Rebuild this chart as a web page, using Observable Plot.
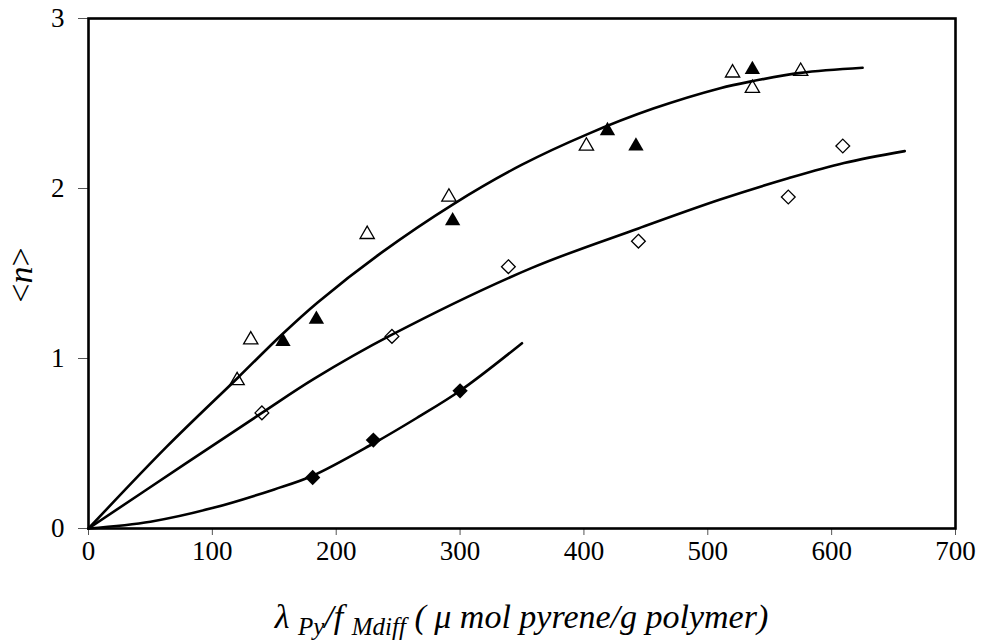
<!DOCTYPE html>
<html><head><meta charset="utf-8">
<script src="https://cdn.jsdelivr.net/npm/d3@7"></script>
<script src="https://cdn.jsdelivr.net/npm/@observablehq/plot@0.6"></script>
<style>body{margin:0;background:#fff} svg{display:block} svg text{font-family:"Times New Roman", "Liberation Serif", Times, "DejaVu Serif", serif !important;}</style>
</head><body><div id="chart"></div>
<script>
// axis ticks
const xTicks = [0, 100, 200, 300, 400, 500, 600, 700];
const yTicks = [0, 1, 2, 3];

// open triangles
const openTriX = [120, 131, 225, 291, 402, 520, 536, 575];
const openTriY = [0.87, 1.11, 1.73, 1.95, 2.25, 2.68, 2.59, 2.69];
// filled triangles
const fillTriX = [157, 184, 294, 419, 442, 536];
const fillTriY = [1.10, 1.23, 1.81, 2.34, 2.25, 2.70];
// open diamonds
const openDiaX = [140, 245, 339, 444, 565, 609];
const openDiaY = [0.68, 1.13, 1.54, 1.69, 1.95, 2.25];
// filled diamonds
const fillDiaX = [181, 230, 300];
const fillDiaY = [0.30, 0.52, 0.81];

// fitted curves
const upperCurveX = [0, 63, 121, 156, 185, 236, 295, 350, 403, 456, 510, 535, 575, 625];
const upperCurveY = [0, 0.48, 0.89, 1.14, 1.33, 1.62, 1.91, 2.14, 2.32, 2.47, 2.59, 2.63, 2.68, 2.71];
const middleCurveX = [0, 78, 140, 182, 245, 357, 444, 510, 565, 610, 659];
const middleCurveY = [0, 0.38, 0.68, 0.88, 1.14, 1.53, 1.765, 1.935, 2.06, 2.15, 2.22];
const lowerCurveX = [0, 50, 100, 150, 181, 230, 265, 300, 350];
const lowerCurveY = [0, 0.04, 0.12, 0.23, 0.31, 0.50, 0.65, 0.81, 1.09];

const toRows = (xs, ys) => xs.map((x, i) => ({x, y: ys[i]}));
const font = "\"Times New Roman\", \"Liberation Serif\", Times, \"DejaVu Serif\", serif";

const plot = Plot.plot({
  width: 982,
  height: 644,
  marginLeft: 88,
  marginRight: 27,
  marginTop: 18,
  marginBottom: 116,
  style: {fontFamily: font, background: "#fff", color: "#000"},
  x: {domain: [0, 700]},
  y: {domain: [0, 3]},
  marks: [
    Plot.axisX({ticks: xTicks, tickSize: 7, tickPadding: 5, fontSize: 27, fontFamily: font, stroke: "#555", fill: "#000", label: null, tickFormat: d => String(d)}),
    Plot.axisY({ticks: yTicks, tickSize: 10, tickPadding: 14, fontSize: 27, fontFamily: font, stroke: "#555", fill: "#000", label: null, tickFormat: d => String(d)}),
    Plot.line(toRows(upperCurveX, upperCurveY), {x: "x", y: "y", curve: "catmull-rom", stroke: "#000", strokeWidth: 2.6}),
    Plot.line(toRows(middleCurveX, middleCurveY), {x: "x", y: "y", curve: "catmull-rom", stroke: "#000", strokeWidth: 2.6}),
    Plot.line(toRows(lowerCurveX, lowerCurveY), {x: "x", y: "y", curve: "catmull-rom", stroke: "#000", strokeWidth: 2.6}),
    Plot.dot(toRows(openTriX, openTriY), {x: "x", y: "y", symbol: "triangle", r: 5.3, fill: "none", stroke: "#000", strokeWidth: 1.3}),
    Plot.dot(toRows(fillTriX, fillTriY), {x: "x", y: "y", symbol: "triangle", r: 5.7, fill: "#000", stroke: "none"}),
    Plot.dot(toRows(openDiaX, openDiaY), {x: "x", y: "y", symbol: d3.symbolDiamond2, r: 6.2, fill: "none", stroke: "#000", strokeWidth: 1.3}),
    Plot.dot(toRows(fillDiaX, fillDiaY), {x: "x", y: "y", symbol: d3.symbolDiamond2, r: 6.9, fill: "#000", stroke: "none"}),
    Plot.frame({stroke: "#000", strokeWidth: 2.6})
  ]
});

const svg = d3.select(plot);
const xs = plot.scale("x");
const cx = (xs.range[0] + xs.range[1]) / 2;

// x-axis label with subscripts
const xl = svg.append("text")
  .attr("x", cx).attr("y", 628)
  .attr("text-anchor", "middle")
  .attr("font-family", font)
  .attr("font-size", 34)
  .attr("font-style", "italic")
  .attr("fill", "#000")
  .attr("xml:space", "preserve");
xl.append("tspan").text("λ ");
xl.append("tspan").attr("font-size", 25).attr("dy", 7).text("Py");
xl.append("tspan").attr("dy", -7).text("/f ");
xl.append("tspan").attr("font-size", 25).attr("dy", 7).text("Mdiff");
xl.append("tspan").attr("dy", -7).text(" ( μ mol pyrene/g polymer)");

// y-axis label
const yl = svg.append("text")
  .attr("transform", "translate(32,275) rotate(-90)")
  .attr("text-anchor", "middle")
  .attr("font-family", font)
  .attr("font-size", 34)
  .attr("fill", "#000");
yl.append("tspan").text("<");
yl.append("tspan").attr("font-style", "italic").text("n");
yl.append("tspan").text(">");

document.getElementById("chart").appendChild(plot);
</script>
</body></html>
